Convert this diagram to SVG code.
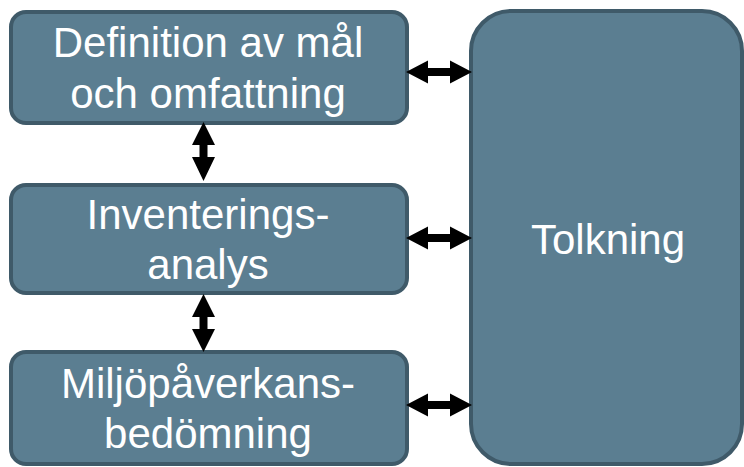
<svg xmlns="http://www.w3.org/2000/svg" width="744" height="467" viewBox="0 0 744 467">
<style>
.box{fill:#5b7e91;stroke:#3f5a69;stroke-width:4}
.t{font-family:"Liberation Sans",Arial,sans-serif;font-size:42px;fill:#ffffff;text-anchor:middle}
.arr{fill:#000000}
</style>
<rect width="744" height="467" fill="#ffffff"/>
<g id="n1">
<rect class="box" x="11" y="12" width="396" height="111" rx="15"/>
<text class="t" x="208" y="57">Definition av mål</text>
<text class="t" x="208" y="108">och omfattning</text>
</g>
<g id="n2">
<rect class="box" x="11" y="185" width="396" height="108" rx="15"/>
<text class="t" x="208" y="229">Inventerings-</text>
<text class="t" x="208" y="279">analys</text>
</g>
<g id="n3">
<rect class="box" x="11" y="352" width="396" height="112" rx="15"/>
<text class="t" x="208" y="398">Miljöpåverkans-</text>
<text class="t" x="208" y="448">bedömning</text>
</g>
<g id="n4">
<rect class="box" x="471" y="11" width="271" height="453" rx="40"/>
<text class="t" x="608" y="254">Tolkning</text>
</g>
<g id="connectors">
<polygon class="arr" points="406,72 428,60.5 428,68 450,68 450,60.5 472,72 450,83.5 450,76 428,76 428,83.5"/>
<polygon class="arr" points="406,238 428,226.5 428,234 450,234 450,226.5 472,238 450,249.5 450,242 428,242 428,249.5"/>
<polygon class="arr" points="406,405 428,393.5 428,401 450,401 450,393.5 472,405 450,416.5 450,409 428,409 428,416.5"/>
<polygon class="arr" points="203.5,122 215,145 207.5,145 207.5,157 215,157 203.5,181 192,157 199.5,157 199.5,145 192,145"/>
<polygon class="arr" points="203.5,294 215,317 207.5,317 207.5,329 215,329 203.5,352 192,329 199.5,329 199.5,317 192,317"/>
</g>
</svg>
